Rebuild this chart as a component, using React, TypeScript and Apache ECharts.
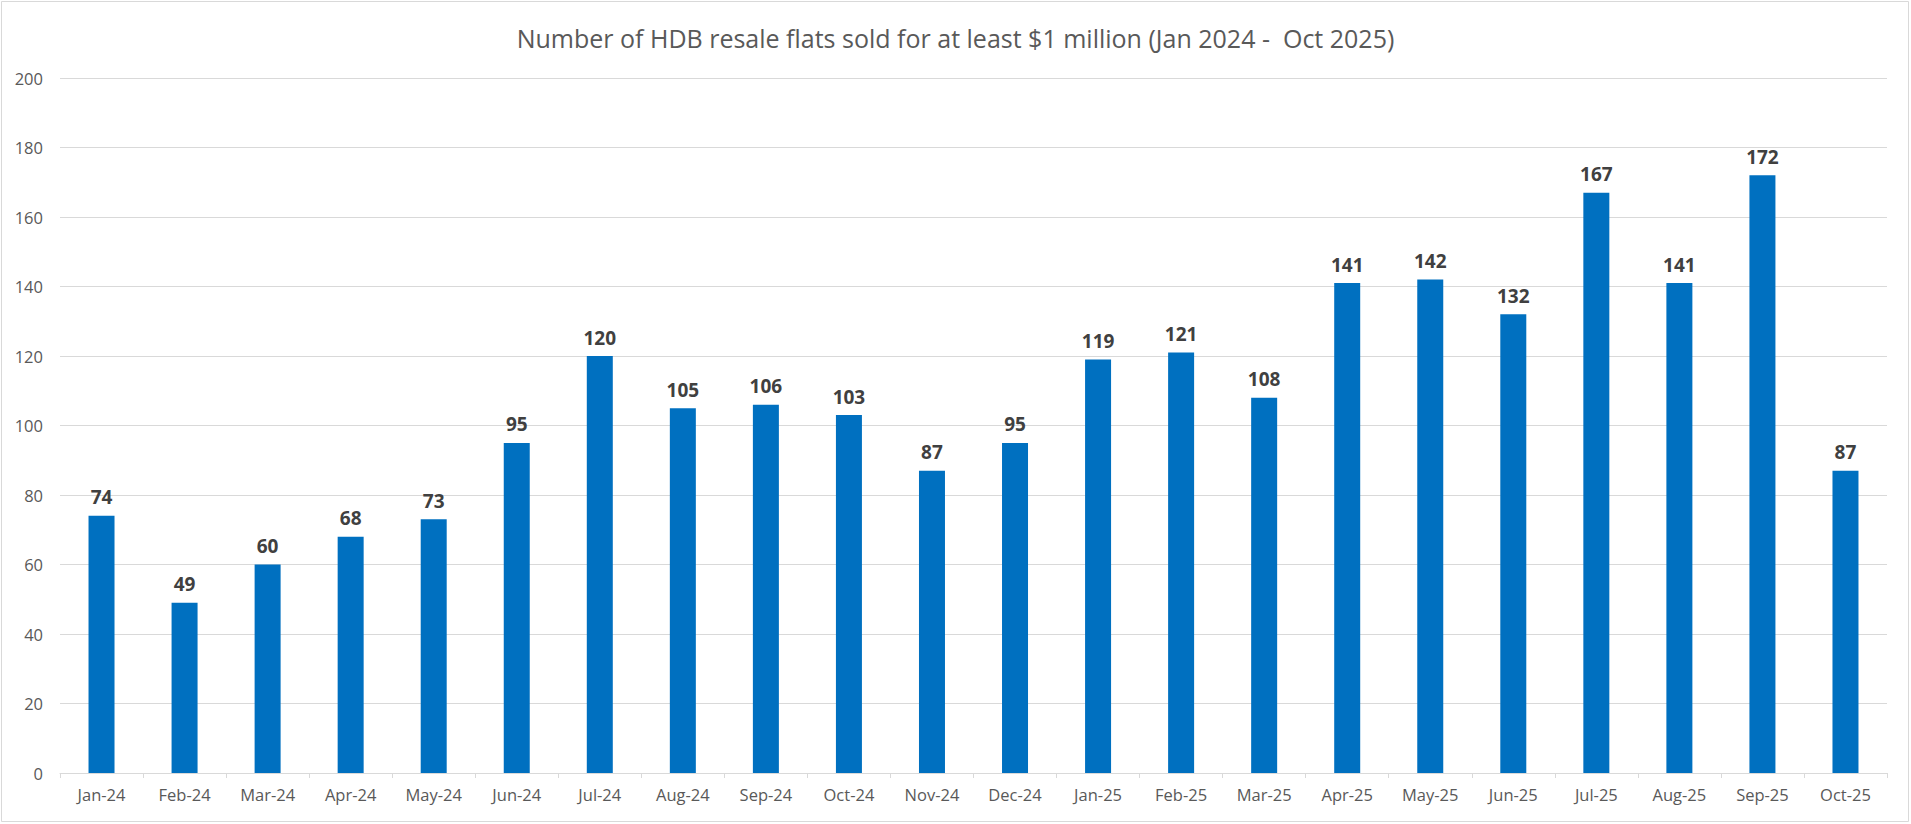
import React, { useEffect, useRef } from "react";
import * as echarts from "echarts";

const categories = [
  "Jan-24", "Feb-24", "Mar-24", "Apr-24", "May-24", "Jun-24", "Jul-24", "Aug-24",
  "Sep-24", "Oct-24", "Nov-24", "Dec-24", "Jan-25", "Feb-25", "Mar-25", "Apr-25",
  "May-25", "Jun-25", "Jul-25", "Aug-25", "Sep-25", "Oct-25",
];
const values = [74, 49, 60, 68, 73, 95, 120, 105, 106, 103, 87, 95, 119, 121, 108, 141, 142, 132, 167, 141, 172, 87];
const titleText = "Number of HDB resale flats sold for at least $1 million (Jan 2024 -  Oct 2025)";

const FONT = "'Open Sans', 'Liberation Sans', sans-serif";

export default function App() {
  const ref = useRef<HTMLDivElement>(null);
  useEffect(() => {
    document.body.style.margin = "0";
    const chart = echarts.init(ref.current!, null, { renderer: "svg" });
    chart.setOption({
      animation: false,
      backgroundColor: "#ffffff",
      title: {
        text: titleText,
        left: "center",
        top: 20,
        textStyle: { fontFamily: FONT, fontSize: 25, fontWeight: "normal", color: "#595959" },
      },
      graphic: [
        {
          type: "rect",
          shape: { x: 1.5, y: 1.5, width: 1907, height: 820 },
          style: { fill: "none", stroke: "#d9d9d9", lineWidth: 1 },
        },
      ],
      grid: { left: 60, right: 24, top: 78, bottom: 51, containLabel: false },
      xAxis: {
        type: "category",
        data: categories,
        axisLine: { lineStyle: { color: "#d9d9d9", width: 1 } },
        axisTick: { show: true, length: 5, lineStyle: { color: "#d9d9d9" } },
        axisLabel: { fontFamily: FONT, fontSize: 16.5, color: "#595959", margin: 13, interval: 0 },
      },
      yAxis: {
        type: "value",
        min: 0,
        max: 200,
        interval: 20,
        axisLine: { show: false },
        axisTick: { show: false },
        splitLine: { lineStyle: { color: "#d9d9d9", width: 1 } },
        axisLabel: { fontFamily: FONT, fontSize: 16.5, color: "#595959", margin: 17 },
      },
      series: [
        {
          type: "bar",
          data: values,
          barWidth: 26,
          itemStyle: { color: "#0070C0" },
          label: {
            show: true,
            position: "top",
            distance: 9,
            fontFamily: FONT,
            fontSize: 19,
            fontWeight: "bold",
            color: "#404040",
          },
        },
      ],
    });
    return () => chart.dispose();
  }, []);
  return <div ref={ref} style={{ width: 1911, height: 824, position: "absolute", left: 0, top: 0 }} />;
}
